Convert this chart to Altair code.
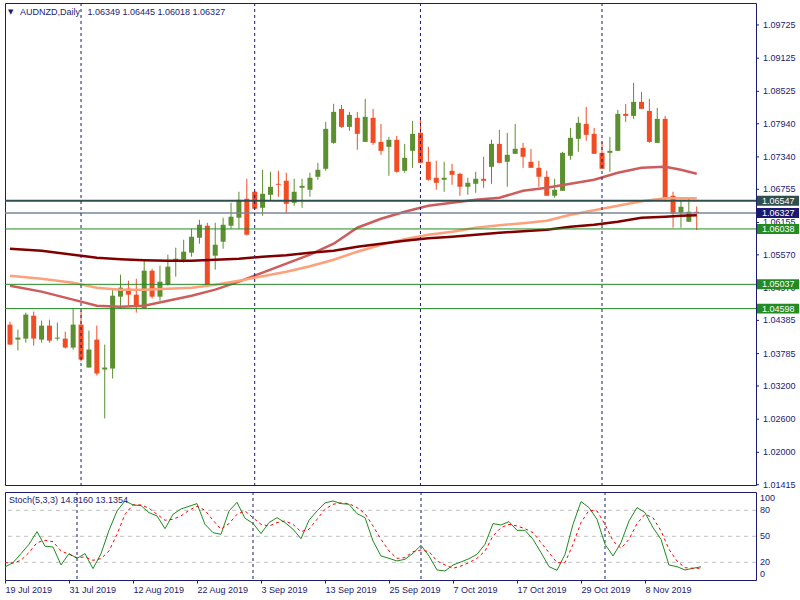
import json
import altair as alt
import pandas as pd

# ---------------- data ----------------
date_labels = ["19 Jul 2019", "31 Jul 2019", "12 Aug 2019", "22 Aug 2019", "3 Sep 2019",
               "13 Sep 2019", "25 Sep 2019", "7 Oct 2019", "17 Oct 2019", "29 Oct 2019", "8 Nov 2019"]
date_label_index = [0, 8, 16, 24, 32, 40, 48, 56, 64, 72, 80]
month_sep_index = [9, 31, 52, 75]

price_ticks = [1.09725, 1.09125, 1.08525, 1.07940, 1.07340, 1.06755, 1.06155, 1.05570,
               1.04970, 1.04385, 1.03785, 1.03200, 1.02600, 1.02000, 1.01415]
stoch_ticks = [0, 20, 50, 80, 100]
stoch_levels = [20, 50, 80]

opens = [1.04309, 1.04038, 1.04056, 1.04471, 1.04038, 1.04291, 1.04056, 1.04056, 1.03894, 1.04309,
         1.03533, 1.04038, 1.03497, 1.03515, 1.04814, 1.04959, 1.04850, 1.04598, 1.05284, 1.04814,
         1.05031, 1.05464, 1.05482, 1.05609, 1.05879, 1.06096, 1.05555, 1.05807, 1.06096, 1.06241,
         1.06584, 1.06710, 1.06421, 1.06656, 1.06854, 1.06909, 1.06511, 1.06782, 1.06746, 1.06981,
         1.07125, 1.07594, 1.08208, 1.07883, 1.08046, 1.07612, 1.08046, 1.07612, 1.07522, 1.07649,
         1.07089, 1.07450, 1.07775, 1.07252, 1.06963, 1.06927, 1.07089, 1.07035, 1.06800, 1.06854,
         1.06945, 1.07161, 1.07576, 1.07252, 1.07396, 1.07504, 1.07252, 1.07143, 1.06981, 1.06638,
         1.06728, 1.07360, 1.07667, 1.07937, 1.07757, 1.07414, 1.07414, 1.07450, 1.08118, 1.08082,
         1.08335, 1.08172, 1.07594, 1.08028, 1.06638, 1.06331, 1.06168, 1.06349]
highs = [1.04363, 1.04219, 1.04526, 1.04544, 1.04381, 1.04399, 1.04345, 1.04182, 1.04598, 1.04562,
         1.04200, 1.04291, 1.03948, 1.04959, 1.05211, 1.05103, 1.05139, 1.05464, 1.05320, 1.05374,
         1.05573, 1.05699, 1.05843, 1.06042, 1.06204, 1.06150, 1.06150, 1.06241, 1.06511, 1.06710,
         1.06945, 1.06720, 1.07107, 1.07071, 1.07089, 1.07053, 1.06945, 1.06945, 1.07053, 1.07233,
         1.07974, 1.08299, 1.08280, 1.08154, 1.08154, 1.08389, 1.08208, 1.07937, 1.07703, 1.07721,
         1.07576, 1.07992, 1.08064, 1.07522, 1.07270, 1.07252, 1.07215, 1.07053, 1.06963, 1.07071,
         1.07342, 1.07649, 1.07829, 1.07775, 1.07937, 1.07594, 1.07486, 1.07270, 1.07089, 1.06945,
         1.07432, 1.07865, 1.08064, 1.08244, 1.07865, 1.07612, 1.07703, 1.08190, 1.08299, 1.08678,
         1.08515, 1.08389, 1.08226, 1.08082, 1.06710, 1.06565, 1.06602, 1.06445]
lows = [1.03940, 1.03840, 1.03984, 1.03930, 1.03984, 1.03984, 1.04020, 1.03876, 1.03858, 1.03641,
        1.03533, 1.03389, 1.02613, 1.03335, 1.04616, 1.04652, 1.04526, 1.04598, 1.04778, 1.04742,
        1.05013, 1.05175, 1.05428, 1.05536, 1.05771, 1.04995, 1.05302, 1.05681, 1.06042, 1.06042,
        1.05920, 1.06385, 1.06277, 1.06547, 1.06620, 1.06313, 1.06457, 1.06421, 1.06620, 1.06927,
        1.07089, 1.07576, 1.07865, 1.07811, 1.07468, 1.07612, 1.07558, 1.07378, 1.06999, 1.07053,
        1.07053, 1.07143, 1.07225, 1.06909, 1.06746, 1.06710, 1.06836, 1.06638, 1.06656, 1.06692,
        1.06782, 1.06854, 1.07225, 1.06800, 1.07396, 1.07143, 1.07143, 1.06800, 1.06638, 1.06602,
        1.06728, 1.07288, 1.07432, 1.07631, 1.07396, 1.07125, 1.07071, 1.07450, 1.07974, 1.08028,
        1.08208, 1.07594, 1.07594, 1.06529, 1.06060, 1.06060, 1.06168, 1.06018]
closes = [1.03948, 1.04074, 1.04490, 1.04056, 1.04291, 1.04020, 1.04074, 1.03894, 1.04309, 1.03677,
          1.03858, 1.03425, 1.03533, 1.04832, 1.04977, 1.04850, 1.04634, 1.05284, 1.04814, 1.05085,
          1.05356, 1.05500, 1.05627, 1.05897, 1.06114, 1.05013, 1.05753, 1.06114, 1.06259, 1.06565,
          1.05934, 1.06403, 1.06674, 1.06800, 1.06836, 1.06493, 1.06710, 1.06818, 1.06963, 1.07107,
          1.07847, 1.08154, 1.07883, 1.08100, 1.07757, 1.08064, 1.07594, 1.07450, 1.07649, 1.07071,
          1.07324, 1.07757, 1.07233, 1.06927, 1.06872, 1.06963, 1.07017, 1.06800, 1.06872, 1.06945,
          1.06909, 1.07576, 1.07233, 1.07378, 1.07486, 1.07342, 1.07143, 1.06981, 1.06638, 1.06746,
          1.07414, 1.07685, 1.07956, 1.07739, 1.07396, 1.07125, 1.07450, 1.08118, 1.08082, 1.08335,
          1.08208, 1.07612, 1.08028, 1.06602, 1.06313, 1.06439, 1.06349, 1.06327]

ma_index = [0, 4, 8, 11, 14, 17, 20, 23, 26, 29, 32, 35, 38, 41, 44, 47, 50, 53, 56, 59,
            62, 65, 68, 71, 74, 77, 80, 83, 85, 87]
ma_fast = [1.05013, 1.04905, 1.04760, 1.04652, 1.04634, 1.04652, 1.04742, 1.04832, 1.04941, 1.05085,
           1.05248, 1.05410, 1.05573, 1.05771, 1.06060, 1.06222, 1.06349, 1.06457, 1.06511, 1.06565,
           1.06602, 1.06728, 1.06782, 1.06854, 1.06927, 1.07053, 1.07143, 1.07161, 1.07107, 1.07035]
ma_mid = [1.05193, 1.05139, 1.05067, 1.04977, 1.04941, 1.04941, 1.04959, 1.04977, 1.05031, 1.05103,
          1.05184, 1.05266, 1.05365, 1.05482, 1.05627, 1.05753, 1.05852, 1.05934, 1.05988, 1.06060,
          1.06105, 1.06141, 1.06186, 1.06295, 1.06376, 1.06457, 1.06538, 1.06592, 1.06592, 1.06592]
ma_slow = [1.05681, 1.05645, 1.05573, 1.05518, 1.05491, 1.05473, 1.05464, 1.05464, 1.05482, 1.05500,
           1.05536, 1.05564, 1.05609, 1.05645, 1.05717, 1.05771, 1.05825, 1.05870, 1.05897, 1.05933,
           1.05970, 1.05997, 1.06024, 1.06078, 1.06114, 1.06168, 1.06241, 1.06259, 1.06277, 1.06286]

stoch_k = [14.6, 19.6, 30, 40.8, 55.4, 38.5, 37.7, 17, 30, 24.6,
           30, 12.7, 30, 56.9, 79.2, 90.8, 86.2, 85.4, 77.3, 73.5,
           58.8, 75.4, 81.5, 84.6, 87.7, 63.8, 54.2, 52.3, 79.2, 89.2,
           70.8, 65, 53.1, 65.8, 71.5, 65.8, 58.1, 47.3, 68.5, 79.2,
           88.5, 90.8, 87.7, 86.9, 76.2, 71.5, 44.6, 27.3, 24.6, 21.5,
           23.5, 30.4, 39.6, 27.3, 11.2, 10, 16.9, 20.4, 24.2, 29.2,
           40.8, 64.6, 63.1, 66.9, 56.9, 56.9, 46.5, 31.2, 15, 10.8,
           29.2, 63.8, 90, 83.1, 69.6, 40.8, 27.3, 42.7, 67.7, 83.1,
           77.3, 60, 46.5, 16.9, 15, 11.2, 13.1, 14.816]
stoch_d = [19.6, 19.2, 22.3, 31.2, 42.7, 45.4, 43.8, 33.1, 29.2, 25.4,
           26.2, 22.3, 24.2, 33.1, 52.3, 75.4, 86.2, 86.2, 82.3, 75.4,
           68.5, 69.6, 73.5, 80, 84.6, 80, 68.5, 58.1, 64.6, 75.4,
           79.2, 71.5, 63.8, 61.9, 65.8, 67.7, 63.8, 55.4, 58.1, 69.6,
           81.2, 86.9, 88.5, 87.7, 83.1, 76.2, 61.9, 46.5, 33.1, 24.6,
           25.4, 32.3, 34.2, 32.3, 21.5, 16.9, 13.1, 15.8, 19.6, 24.6,
           33.1, 50.4, 60, 63.8, 61.9, 58.8, 54.2, 42.7, 31.2, 19.6,
           19.6, 40.8, 65.8, 80, 79.2, 63.8, 44.6, 36.2, 46.5, 64.6,
           75.4, 71.5, 56.2, 35, 21.5, 13.8, 13.1, 13.1354]

level_values = [1.06547, 1.06327, 1.06038, 1.05037, 1.04598]
level_kind = ["resistance", "last", "support", "support", "support"]

title_text = "AUDNZD,Daily\u00a0\u00a0\u00a01.06349 1.06445 1.06018 1.06327"
stoch_text = "Stoch(5,3,3) 14.8160 13.1354"

# ---------------- styling ----------------
NAVY = "#1b1b72"
BULL = "#5b8f2f"
BEAR = "#f24c24"
FONT = "Liberation Sans"
W = 751
H_MAIN = 482
H_STOCH = 88

x_scale = alt.Scale(domain=[0, 93.875], nice=False, zero=False)
y_scale = alt.Scale(domain=[1.01410, 1.10122], nice=False, zero=False)
s_scale = alt.Scale(domain=[-0.4, 101.1], nice=False, zero=False)

n = len(opens)
candles = pd.DataFrame({"i": list(range(n)), "o": opens, "h": highs, "l": lows, "c": closes})
candles["dir"] = ["up" if c >= o else "down" for o, c in zip(opens, closes)]
dir_color = alt.Color("dir:N", scale=alt.Scale(domain=["up", "down"], range=[BULL, BEAR]), legend=None)

m = len(ma_index)
ma_df = pd.DataFrame({"i": ma_index * 3, "v": ma_fast + ma_mid + ma_slow,
                      "s": ["fast"] * m + ["mid"] * m + ["slow"] * m})
levels = pd.DataFrame({"v": level_values, "kind": level_kind})
seps = pd.DataFrame({"i": month_sep_index})
stoch = pd.DataFrame({"i": list(range(n)), "k": stoch_k, "d": stoch_d})
pticks = pd.DataFrame({"v": price_ticks})
sticks = pd.DataFrame({"v": stoch_ticks})

X = lambda: alt.X("i:Q", scale=x_scale, axis=None)
YP = lambda f: alt.Y(f, scale=y_scale, axis=None)

wicks = alt.Chart(candles).mark_rule(strokeWidth=1, clip=True).encode(
    x=X(), y=YP("l:Q"), y2="h:Q", color=dir_color)
bodies = alt.Chart(candles).mark_bar(width=5, clip=True).encode(
    x=X(), y=YP("o:Q"), y2="c:Q", color=dir_color)
ma_lines = alt.Chart(ma_df).mark_line(strokeWidth=2.5, clip=True).encode(
    x=X(), y=YP("v:Q"),
    color=alt.Color("s:N", scale=alt.Scale(domain=["fast", "mid", "slow"],
                                           range=["#cd5c5c", "#ffa07a", "#800000"]), legend=None))
kind_line_color = alt.Color("kind:N", scale=alt.Scale(domain=["resistance", "last", "support"],
                                                      range=["#2f4f4f", "#778899", "#228b22"]), legend=None)
kind_width = alt.StrokeWidth("kind:N", scale=alt.Scale(domain=["resistance", "last", "support"],
                                                       range=[2, 1, 2]), legend=None)
level_lines = alt.Chart(levels).mark_rule().encode(
    y=YP("v:Q"), color=kind_line_color, strokeWidth=kind_width)
sep_main = alt.Chart(seps).mark_rule(color=NAVY, strokeDash=[3, 3], strokeWidth=1).encode(x=X())

# price scale (right side): tick marks + labels
p_tickmarks = alt.Chart(pticks).mark_rule(color=NAVY, strokeWidth=1).encode(
    x=alt.value(751), x2=alt.value(754), y=YP("v:Q"))
p_labels = alt.Chart(pticks).transform_calculate(txt="format(datum.v, '.5f')").mark_text(
    align="left", baseline="middle", color=NAVY, font=FONT, fontSize=9).encode(
    x=alt.value(758), y=YP("v:Q"), text="txt:N")

boxes = alt.Chart(levels).transform_calculate(
    lo="datum.v - 0.0009", hi="datum.v + 0.0009").mark_rect().encode(
    x=alt.value(752), x2=alt.value(794),
    y=YP("lo:Q"), y2="hi:Q",
    color=alt.Color("kind:N", scale=alt.Scale(domain=["resistance", "last", "support"],
                                              range=["#2f4f4f", "#191970", "#228b22"]), legend=None))
box_text = alt.Chart(levels).transform_calculate(txt="format(datum.v, '.5f')").mark_text(
    align="left", baseline="middle", color="white", font=FONT, fontSize=9).encode(
    x=alt.value(757), y=YP("v:Q"), text="txt:N")
tri = alt.Chart(pd.DataFrame({"t": ["\u25bc"]})).mark_text(
    align="left", baseline="middle", color=NAVY, font="DejaVu Sans", fontSize=7).encode(
    x=alt.value(3), y=alt.value(9), text="t:N")
title = alt.Chart(pd.DataFrame({"t": [title_text]})).mark_text(
    align="left", baseline="middle", color=NAVY, font=FONT, fontSize=9).encode(
    x=alt.value(15), y=alt.value(9), text="t:N")

main = alt.layer(wicks, bodies, ma_lines, level_lines, sep_main, p_tickmarks, p_labels,
                 boxes, box_text, tri, title).resolve_scale(
    color="independent", strokeWidth="independent").properties(width=W, height=H_MAIN)

# ---------------- stochastic panel ----------------
label_expr = f"{json.dumps(date_labels)}[indexof({json.dumps(date_label_index)}, datum.value)]"
x_axis = alt.Axis(values=date_label_index, labelExpr=label_expr, title=None, grid=False, domain=False,
                  tickSize=3, tickColor=NAVY, labelColor=NAVY, labelFont=FONT, labelFontSize=9,
                  labelAlign="left", labelBaseline="top", labelPadding=2, labelFlush=False,
                  labelOverlap=False, labelBound=False)
YS = lambda f: alt.Y(f, scale=s_scale, axis=None)

sgrid = alt.Chart(pd.DataFrame({"lvl": stoch_levels})).mark_rule(
    color="#c0c0c0", strokeDash=[4, 4], strokeWidth=1).encode(y=YS("lvl:Q"))
sep_st = alt.Chart(seps).mark_rule(color=NAVY, strokeDash=[3, 3], strokeWidth=1).encode(
    x=alt.X("i:Q", scale=x_scale, axis=x_axis))
k_line = alt.Chart(stoch).mark_line(color="#1e8c1e", strokeWidth=1, clip=True).encode(
    x=alt.X("i:Q", scale=x_scale, title=None), y=YS("k:Q"))
d_line = alt.Chart(stoch).mark_line(color="#ff0000", strokeWidth=1, strokeDash=[3, 3], clip=True).encode(
    x=alt.X("i:Q", scale=x_scale, title=None), y=YS("d:Q"))
s_lab_mid = alt.Chart(sticks).transform_filter("datum.v > 0 && datum.v < 100").mark_text(
    align="left", baseline="middle", color=NAVY, font=FONT, fontSize=9).encode(
    x=alt.value(755), y=YS("v:Q"), text="v:Q")
s_lab_top = alt.Chart(sticks).transform_filter("datum.v >= 100").mark_text(
    align="left", baseline="middle", color=NAVY, font=FONT, fontSize=9, dy=5).encode(
    x=alt.value(755), y=YS("v:Q"), text="v:Q")
s_lab_bot = alt.Chart(sticks).transform_filter("datum.v <= 0").mark_text(
    align="left", baseline="middle", color=NAVY, font=FONT, fontSize=9, dy=-6).encode(
    x=alt.value(755), y=YS("v:Q"), text="v:Q")
s_title = alt.Chart(pd.DataFrame({"t": [stoch_text]})).mark_text(
    align="left", baseline="middle", color=NAVY, font=FONT, fontSize=9).encode(
    x=alt.value(4), y=alt.value(8), text="t:N")

stoch_panel = alt.layer(sgrid, sep_st, k_line, d_line, s_lab_mid, s_lab_top, s_lab_bot,
                        s_title).properties(width=W, height=H_STOCH)

chart = alt.vconcat(main, stoch_panel, spacing=7, bounds="flush").properties(
    padding={"left": 3, "top": 2, "right": 0, "bottom": 0}, background="white"
).configure_view(stroke=NAVY, strokeWidth=1)

chart.save("out.html", embed_options={"renderer": "svg", "actions": False})
